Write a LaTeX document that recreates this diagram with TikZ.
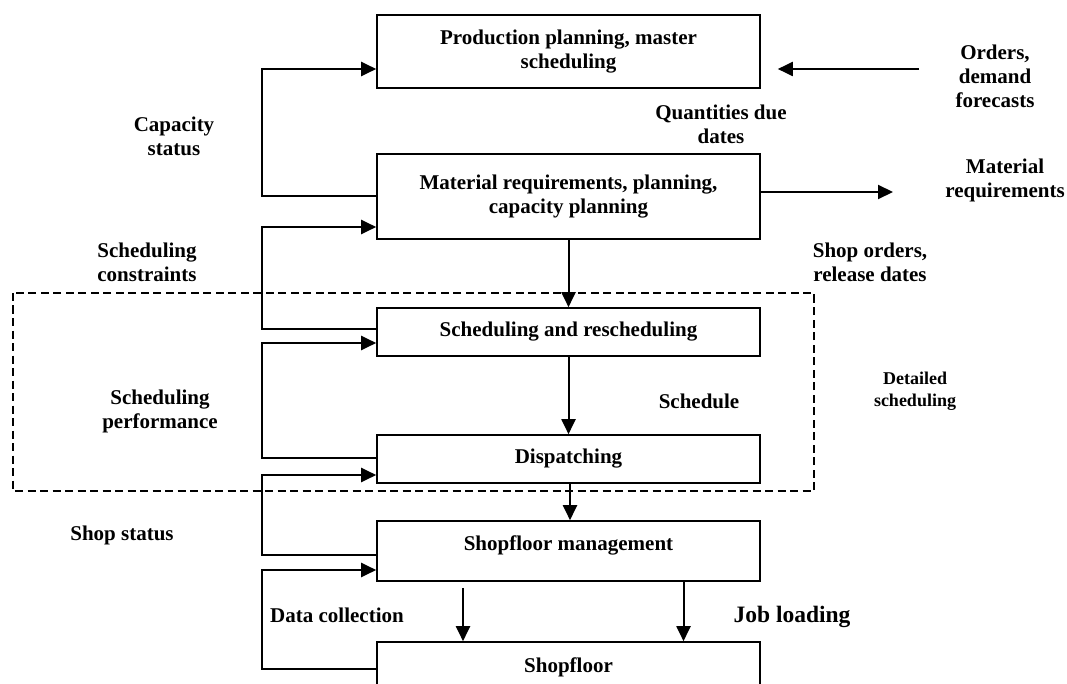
\documentclass[tikz,border=0pt]{standalone}
\usepackage{fontspec}
\setmainfont{Liberation Serif}
\usetikzlibrary{arrows.meta}
\begin{document}
\begin{tikzpicture}[x=1pt,y=-1pt,
  box/.style={draw,line width=1.6pt,minimum width=383pt,inner sep=0pt,align=center,font=\bfseries\fontsize{21}{24}\selectfont},
  lbl/.style={align=center,inner sep=0pt,font=\bfseries\fontsize{21}{24}\selectfont},
  flow/.style={line width=2pt,-{Triangle[length=15pt,width=14pt]}},
  region/.style={line width=1.8pt,dash pattern=on 8pt off 4.5pt}]
\useasboundingbox (0,0) rectangle (1067,684);

% dashed region
\draw[region] (13,293) rectangle (814,491);

% boxes
\node[box,minimum height=73pt] (b1) at (568.5,51.5) {Production planning, master\\scheduling};
\node[box,minimum height=85pt] (b2) at (568.5,196.5) {Material requirements, planning,\\capacity planning};
\node[box,minimum height=48pt] (b3) at (568.5,332) {Scheduling and rescheduling};
\node[box,minimum height=48pt] (b4) at (568.5,459) {Dispatching};
\node[box,minimum height=60pt,text height=15pt,text depth=17pt] (b5) at (568.5,551) {Shopfloor management};
\node[box,minimum height=56pt,text height=15pt,text depth=11pt] (b6) at (568.5,670) {Shopfloor};

% free ends
\coordinate (oin) at (919,69);
\coordinate (mout) at (893,192);

% feedback loops on the left
\draw[flow] (b2.west) -- ++(-114,0) |- ([yshift=-17.5pt]b1.west);
\draw[flow] ([yshift=3pt]b3.west) -- ++(-114,0) |- ([yshift=-30.5pt]b2.west);
\draw[flow] ([yshift=1pt]b4.west) -- ++(-114,0) |- ([yshift=-11pt]b3.west);
\draw[flow] ([yshift=-4pt]b5.west) -- ++(-114,0) |- ([yshift=-16pt]b4.west);
\draw[flow] ([yshift=1pt]b6.west) -- ++(-114,0) |- ([yshift=-19pt]b5.west);

% downward flow
\draw[flow] (b2.south) -- (b3.north);
\draw[flow] (b3.south) -- (b4.north);
\draw[flow] ([xshift=1.5pt]b4.south) -- ([xshift=1.5pt]b5.north);
\draw[flow] ([xshift=-105.5pt,yshift=-6pt]b5.south) -- ([xshift=-105.5pt]b6.north);
\draw[flow] ([xshift=115pt]b5.south) -- ([xshift=115pt]b6.north);

% right side
\draw[flow] (oin) -- ([xshift=17pt,yshift=-17.5pt]b1.east);
\draw[flow] ([yshift=4.5pt]b2.east) -- (mout);

% labels
\node[lbl] (lcap) at (174,136.5) {Capacity\\status};
\node[lbl] (lqty) at (721,124.5) {Quantities due\\dates};
\node[lbl] (lord) at (995,76) {Orders,\\demand\\forecasts};
\node[lbl] (lmat) at (1005,180.5) {Material\\requirements};
\node[lbl] (lshop) at (870,262.5) {Shop orders,\\release dates};
\node[lbl] (lcon) at (147,262.5) {Scheduling\\constraints};
\node[lbl] (lperf) at (160,411.5) {Scheduling\\performance};
\node[lbl] (lsch) at (699,401) {Schedule};
\node[lbl,font=\bfseries\fontsize{18}{22}\selectfont] (ldet) at (915,391.5) {Detailed\\scheduling};
\node[lbl] (lss) at (122,535) {Shop status};
\node[lbl] (ldc) at (337,615) {Data collection};
\node[lbl,font=\bfseries\fontsize{23.5}{26}\selectfont] (ljob) at (792,617) {Job loading};
\end{tikzpicture}
\end{document}
